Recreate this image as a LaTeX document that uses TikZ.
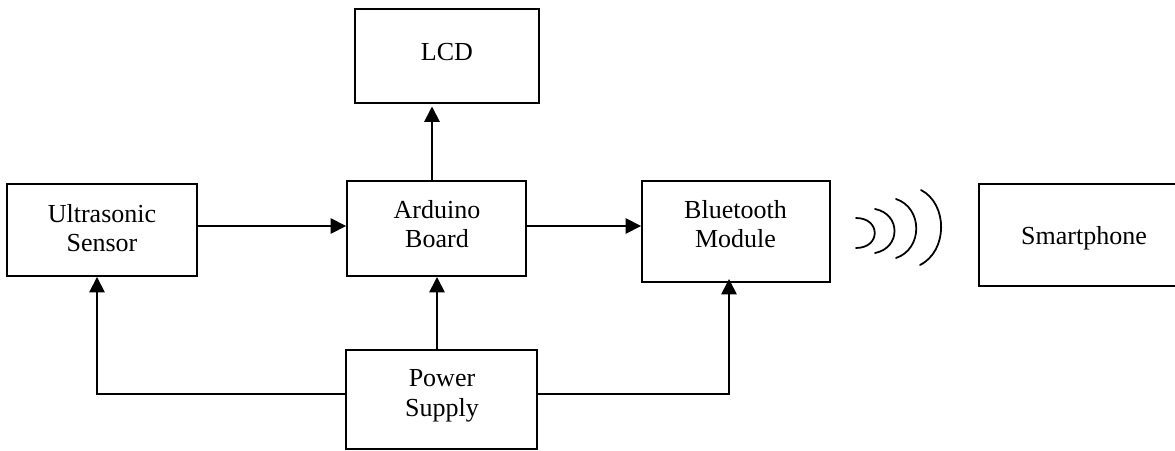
\documentclass[tikz,border=0pt]{standalone}
\usepackage{fontspec}
\setmainfont{Liberation Serif}
\usetikzlibrary{arrows.meta}
\tikzset{
  blockbox/.style={draw=black,line width=0.55pt,inner sep=0pt},
  blocktext/.style={align=center,inner sep=0pt,font=\fontsize{7.4}{8.45}\selectfont},
  feed/.style={line width=0.5pt,-{Triangle[length=4.4pt,width=4.4pt]}},
  wave/.style={line width=0.5pt,line cap=round}
}
\begin{document}
\begin{tikzpicture}
    \useasboundingbox (0,0) rectangle (11.75,4.5);
    \clip (0,0) rectangle (11.75,4.5);

    % boxes
    \node[blockbox,minimum width=1.84cm,minimum height=0.94cm] (lcd) at (4.47,3.94) {};
    \node[blockbox,minimum width=1.90cm,minimum height=0.92cm] (ultra) at (1.02,2.20) {};
    \node[blockbox,minimum width=1.79cm,minimum height=0.95cm] (board) at (4.365,2.215) {};
    \node[blockbox,minimum width=1.88cm,minimum height=1.01cm] (blue) at (7.36,2.185) {};
    \node[blockbox,minimum width=2.08cm,minimum height=1.02cm] (phone) at (10.83,2.15) {};
    \node[blockbox,minimum width=1.91cm,minimum height=0.99cm] (power) at (4.415,0.505) {};

    % texts
    \node[blocktext] (lcdtext) at (4.47,3.98) {LCD};
    \node[blocktext] (ultratext) at (1.02,2.22) {Ultrasonic\\Sensor};
    \node[blocktext] (boardtext) at (4.37,2.26) {Arduino\\Board};
    \node[blocktext] (bluetext) at (7.355,2.26) {Bluetooth\\Module};
    \node[blocktext] (phonetext) at (10.84,2.12) {Smartphone};
    \node[blocktext] (powertext) at (4.42,0.54) {Power\\Supply};

    % free ends of the connectors
    \coordinate (powerL) at (3.46,0.56);
    \coordinate (powerR) at (5.37,0.56);
    \coordinate (cornerL) at (0.97,0.56);
    \coordinate (cornerR) at (7.29,0.56);
    \coordinate (lcdtip) at (4.32,3.435);
    \coordinate (boardtip) at (4.37,1.73);
    \coordinate (bluetip) at (7.29,1.71);

    % connectors
    \draw[feed] (ultra.east |- 0,2.24) -- (board.west |- 0,2.24);
    \draw[feed] (board.east |- 0,2.24) -- (blue.west |- 0,2.24);
    \draw[feed] (lcdtip |- board.north) -- (lcdtip);
    \draw[feed] (boardtip |- power.north) -- (boardtip);
    \draw[feed] (powerL) -- (cornerL) -- (cornerL |- ultra.south);
    \draw[feed] (powerR) -- (cornerR) -- (bluetip);

    % radio waves
    \draw[wave] (8.56,2.32) .. controls (8.81,2.32) and (8.81,2.02) .. (8.56,2.02);
    \draw[wave] (8.75,2.41) .. controls (9.01,2.36) and (9.01,2.02) .. (8.75,1.97);
    \draw[wave] (8.96,2.51) .. controls (9.23,2.42) and (9.23,2.01) .. (8.96,1.92);
    \draw[wave] (9.21,2.60) .. controls (9.48,2.46) and (9.48,1.99) .. (9.20,1.85);
\end{tikzpicture}
\end{document}
